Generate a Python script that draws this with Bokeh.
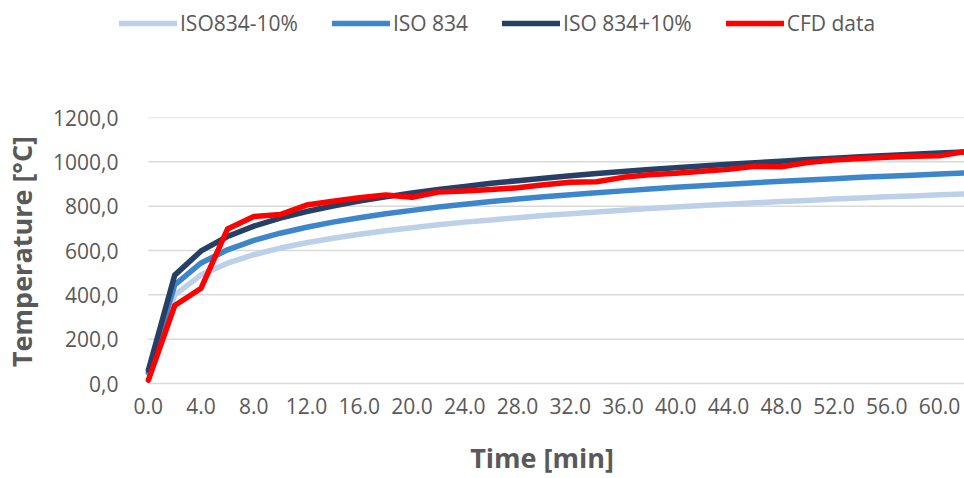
from bokeh.plotting import figure
from bokeh.layouts import column
from bokeh.models import (Range1d, FixedTicker, PrintfTickFormatter, Legend, LegendItem)
from bokeh.embed import file_html
from bokeh.resources import INLINE

# ---- data ----
time_min = [0, 2, 4, 6, 8, 10, 12, 14, 16, 18, 20, 22, 24, 26, 28, 30,
            32, 34, 36, 38, 40, 42, 44, 46, 48, 50, 52, 54, 56, 58, 60, 62]
iso_minus10 = [45, 400, 490, 543, 581, 611, 635, 655, 673, 689, 703, 716, 728, 738, 748, 758,
               766, 774, 782, 789, 796, 803, 809, 815, 821, 826, 832, 837, 842, 846, 851, 855]
iso_834 = [50, 445, 544, 603, 646, 678, 705, 728, 748, 766, 781, 796, 809, 821, 832, 842,
           851, 861, 869, 877, 885, 892, 899, 906, 912, 918, 924, 930, 935, 940, 945, 950]
iso_plus10 = [60, 489, 598, 663, 710, 746, 776, 801, 823, 842, 860, 875, 889, 903, 915, 926,
              937, 947, 956, 965, 973, 981, 989, 996, 1003, 1010, 1016, 1023, 1029, 1034, 1040, 1045]
cfd_data = [15, 352, 430, 697, 753, 762, 805, 822, 838, 850, 840, 864, 868, 875, 883, 897,
            908, 910, 930, 942, 948, 958, 966, 980, 978, 997, 1008, 1015, 1021, 1025, 1027, 1047]

series_names = ["ISO834-10%", "ISO 834", "ISO 834+10%", "CFD data"]
series_colors = ["#BDD0E9", "#3E86CC", "#254064", "#FF0000"]
x_ticks = [0, 4, 8, 12, 16, 20, 24, 28, 32, 36, 40, 44, 48, 52, 56, 60]
y_ticks = [0, 200, 400, 600, 800, 1000, 1200]

TEXT = "#595959"
FONT = "Open Sans"
series = [iso_minus10, iso_834, iso_plus10, cfd_data]
W, H, LEG_H = 964, 478, 40
X_START, X_END = -2.19, 61.9

# ---- legend strip (top) ----
leg = figure(width=W, height=LEG_H, output_backend="svg", toolbar_location=None,
             x_range=Range1d(X_START, X_END), y_range=Range1d(-9, 1200),
             x_axis_location=None, y_axis_location=None,
             min_border_left=0, min_border_right=0, min_border_top=0, min_border_bottom=0)
leg.outline_line_color = None
leg.xgrid.grid_line_color = None
leg.ygrid.grid_line_color = None
leg_renderers = []
for ys, c in zip(series, series_colors):
    r = leg.line(time_min, ys, line_color=c, line_width=5.5, line_cap="round")
    r.visible = False
    leg_renderers.append(r)
legend = Legend(items=[LegendItem(label=n, renderers=[r]) for n, r in zip(series_names, leg_renderers)],
                orientation="horizontal", location=(0, 3),
                glyph_width=58, glyph_height=20, label_standoff=3, spacing=34,
                padding=0, margin=0, border_line_color=None, background_fill_alpha=0,
                inactive_fill_alpha=0,
                label_text_font=FONT, label_text_font_size="21px", label_text_color=TEXT)
leg.add_layout(legend, "center")

# ---- main chart ----
p = figure(width=W, height=H - LEG_H, output_backend="svg", toolbar_location=None,
           x_range=Range1d(X_START, X_END), y_range=Range1d(-9, 1200),
           min_border_left=117, min_border_right=0, min_border_top=77, min_border_bottom=89)
p.outline_line_color = None
p.background_fill_color = "white"

# horizontal gridlines spanning the data's time extent
p.segment(x0=[time_min[0]] * len(y_ticks), y0=y_ticks,
          x1=[time_min[-1]] * len(y_ticks), y1=y_ticks,
          line_color="#D9D9D9", line_width=1.5)

for ys, c in zip(series, series_colors):
    p.line(time_min, ys, line_color=c, line_width=5.5, line_join="round", line_cap="round")

p.xaxis.ticker = FixedTicker(ticks=x_ticks)
p.xaxis.formatter = PrintfTickFormatter(format="%.1f")
p.yaxis.ticker = FixedTicker(ticks=y_ticks)
p.yaxis.formatter = PrintfTickFormatter(format="%d,0")
for ax in (p.xaxis, p.yaxis):
    ax.axis_line_color = None
    ax.major_tick_line_color = None
    ax.minor_tick_line_color = None
    ax.major_label_text_font = FONT
    ax.major_label_text_font_size = "21px"
    ax.major_label_text_color = TEXT
    ax.axis_label_text_font = FONT
    ax.axis_label_text_font_style = "bold"
    ax.axis_label_text_font_size = "27px"
    ax.axis_label_text_color = TEXT
p.xaxis.axis_label = "Time [min]"
p.yaxis.axis_label = "Temperature [°C]"
p.yaxis.major_label_standoff = -5
p.yaxis.axis_label_standoff = 10
p.xaxis.major_label_standoff = 6
p.xaxis.axis_label_standoff = 22

p.xgrid.grid_line_color = None
p.ygrid.grid_line_color = None

layout = column(leg, p, spacing=0)
open("out.html", "w").write(file_html(layout, INLINE))
